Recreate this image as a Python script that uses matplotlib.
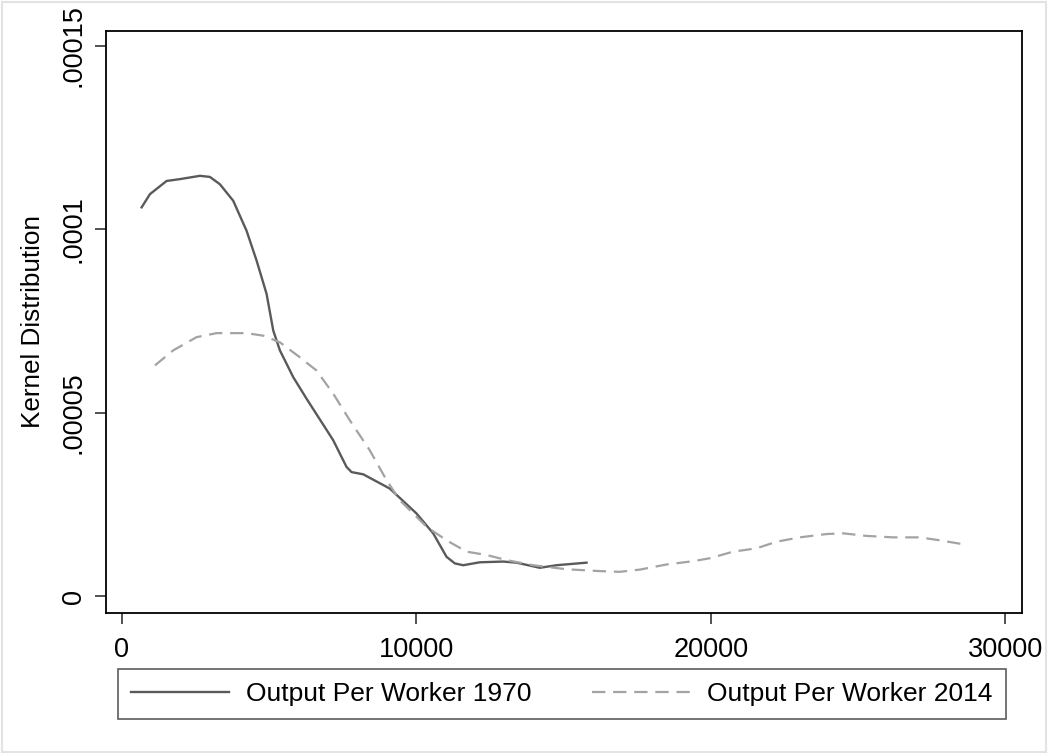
import matplotlib
matplotlib.use("Agg")
import matplotlib.pyplot as plt
from matplotlib.patches import Rectangle
import numpy as np

plt.rcParams["font.family"] = ["Liberation Sans", "DejaVu Sans"]

# kernel density (y in units of 1e-4)
x_1970 = [669, 951, 1517, 1970, 2649, 2988, 3328, 3780, 4234, 4573, 4913, 5140,
          5365, 5818, 6272, 7175, 7629, 7799, 8194, 9100, 10007, 10572, 11025,
          11307, 11590, 12156, 12949, 13402, 14194, 14761, 15780]
y_1970 = [1.060, 1.096, 1.132, 1.137, 1.146, 1.143, 1.123, 1.078, 0.996, 0.915,
          0.824, 0.724, 0.670, 0.597, 0.538, 0.425, 0.352, 0.338, 0.332, 0.293,
          0.225, 0.171, 0.107, 0.089, 0.084, 0.092, 0.094, 0.091, 0.077, 0.084,
          0.091]

x_2014 = [1121, 1742, 2535, 3214, 4234, 4800, 5365, 6044, 6610, 7175, 7742, 8421,
          8988, 9440, 10346, 11025, 11704, 12383, 13062, 13968, 15100, 16231,
          16910, 17589, 18495, 19400, 19966, 20758, 21550, 22230, 23022, 23928,
          24494, 25286, 26190, 27097, 27776, 28513]
y_2014 = [0.629, 0.670, 0.706, 0.717, 0.717, 0.710, 0.692, 0.651, 0.615, 0.552,
          0.479, 0.397, 0.316, 0.261, 0.189, 0.152, 0.121, 0.112, 0.098, 0.084,
          0.073, 0.068, 0.066, 0.072, 0.086, 0.095, 0.103, 0.121, 0.130, 0.148,
          0.160, 0.169, 0.171, 0.164, 0.160, 0.160, 0.152, 0.142]

labels = ["Output Per Worker 1970", "Output Per Worker 2014"]
yticks = [0, 0.00005, 0.0001, 0.00015]
ytick_labels = ["0", ".00005", ".0001", ".00015"]
xticks = [0, 10000, 20000, 30000]

fig = plt.figure(figsize=(10.49, 7.54), dpi=100)
ax = fig.add_axes([0.1010, 0.1870, 0.8736, 0.7719])

ax.plot(x_1970, np.array(y_1970) * 1e-4, color="#5a5a5a", lw=1.7,
        label=labels[0])
ax.plot(x_2014, np.array(y_2014) * 1e-4, color="#a3a3a3", lw=1.6,
        dashes=(6, 3.5), label=labels[1])

ax.set_xlim(-543, 30584)
ax.set_ylim(-0.00000463, 0.0001541)
ax.set_xticks(xticks)
ax.set_xticklabels([str(v) for v in xticks])
ax.set_yticks(yticks)
ax.set_yticklabels(ytick_labels, rotation=90, va="center")
ax.tick_params(axis="both", direction="out", length=8, width=1.2,
               color="#333333", labelsize=19.5)
ax.tick_params(axis="x", pad=9)
ax.tick_params(axis="y", pad=6)
for s in ax.spines.values():
    s.set_linewidth(1.3)
    s.set_color("black")
ax.set_ylabel("Kernel Distribution", fontsize=18.8, labelpad=11)

leg = fig.legend(loc="center", bbox_to_anchor=(0.5357, 0.0796),
                 ncol=2, fontsize=19, handlelength=3.7,
                 handletextpad=0.65, columnspacing=2.3, fancybox=False,
                 borderaxespad=0, borderpad=0.5)
leg.get_frame().set_edgecolor("#333333")
leg.get_frame().set_linewidth(1.2)

# light grey frame around the whole graph region
fig.patches.append(Rectangle((0.002, 0.003), 0.995, 0.994, transform=fig.transFigure,
                             fill=False, edgecolor="#e3e3e3", lw=1.5))

fig.savefig("out.png", dpi=100)
